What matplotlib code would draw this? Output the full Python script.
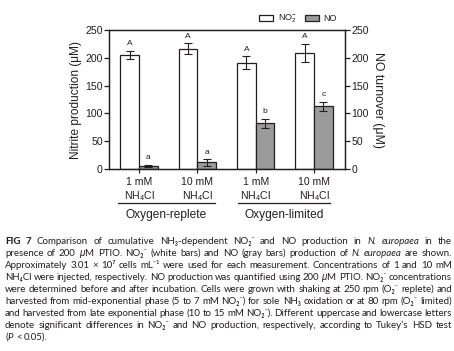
import matplotlib
matplotlib.use("Agg")
import matplotlib.pyplot as plt
import numpy as np
from matplotlib.transforms import blended_transform_factory

plt.rcParams['font.family'] = ['Liberation Sans', 'DejaVu Sans']
plt.rcParams['mathtext.fontset'] = 'custom'
plt.rcParams['mathtext.rm'] = 'Liberation Sans'
plt.rcParams['mathtext.it'] = 'Liberation Sans:italic'
plt.rcParams['mathtext.bf'] = 'Liberation Sans:bold'

# data
categories = ['1 mM\nNH$_4$Cl', '10 mM\nNH$_4$Cl', '1 mM\nNH$_4$Cl', '10 mM\nNH$_4$Cl']
groups = ['Oxygen-replete', 'Oxygen-limited']
nitrite = [205, 216, 191, 209]
nitrite_err = [8, 10, 12, 16]
no_turnover = [6, 12, 82, 113]
no_err = [2, 6, 8, 8]
nitrite_letters = ['A', 'A', 'A', 'A']
no_letters = ['a', 'a', 'b', 'c']

ink = '#231f20'
gray = '#9b9b9b'

fig = plt.figure(figsize=(4.54, 3.51), dpi=100)
ax = fig.add_axes([0.240, 0.5185, 0.520, 0.396])

x = np.arange(len(categories))
w = 0.32
ax.bar(x - w / 2, nitrite, w, color='white', edgecolor=ink, linewidth=0.9,
       yerr=nitrite_err, error_kw=dict(ecolor=ink, elinewidth=0.8, capsize=3, capthick=0.8),
       label='NO$_2^{-}$')
ax.bar(x + w / 2, no_turnover, w, color=gray, edgecolor=ink, linewidth=0.9,
       yerr=no_err, error_kw=dict(ecolor=ink, elinewidth=0.8, capsize=3, capthick=0.8),
       label='NO')

for i in range(len(x)):
    ax.annotate(nitrite_letters[i], (x[i] - w / 2, nitrite[i] + nitrite_err[i]),
                xytext=(0, 2.5), textcoords='offset points', ha='center', va='bottom',
                fontsize=6, color=ink)
    ax.annotate(no_letters[i], (x[i] + w / 2, no_turnover[i] + no_err[i]),
                xytext=(0, 2.5), textcoords='offset points', ha='center', va='bottom',
                fontsize=6, color=ink)

ax.set_xlim(-0.515, 3.53)
ax.set_ylim(0, 250)
ax.set_yticks([0, 50, 100, 150, 200, 250])
ax.set_xticks(x)
ax.set_xticklabels(categories, fontsize=7.6, color=ink, linespacing=1.15)
ax.tick_params(axis='x', length=3, width=0.9, color=ink, pad=3)
ax.tick_params(axis='y', length=3.5, width=0.9, color=ink, labelsize=7.6, labelcolor=ink, pad=1)
for s in ax.spines.values():
    s.set_linewidth(0.9)
    s.set_color(ink)
ax.set_ylabel('Nitrite production (μM)', fontsize=8.6, color=ink, labelpad=2)

ax2 = ax.twinx()
ax2.set_ylim(0, 250)
ax2.set_yticks([0, 50, 100, 150, 200, 250])
ax2.tick_params(axis='y', length=3.5, width=0.9, color=ink, labelsize=7.6, labelcolor=ink, pad=1)
for s in ax2.spines.values():
    s.set_linewidth(0.9)
    s.set_color(ink)
ax2.set_ylabel('NO turnover (μM)', fontsize=8.8, color=ink, rotation=270, labelpad=11)

# group underlines and labels
tr = blended_transform_factory(ax.transData, ax.transAxes)
for (a, b), name in zip([(-0.36, 1.30), (1.70, 3.28)], groups):
    ax.plot([a, b], [-0.245, -0.245], transform=tr, color=ink, lw=0.9, clip_on=False)
    ax.text((a + b) / 2, -0.33, name, transform=tr, ha='center', va='center',
            fontsize=8.6, color=ink)

leg = ax.legend(loc='lower right', bbox_to_anchor=(0.985, 1.0), ncol=2, frameon=False,
                fontsize=6.5, handlelength=1.6, handleheight=0.55, columnspacing=0.9,
                handletextpad=0.5, borderaxespad=0.1, labelcolor=ink)

# caption, justified line by line
B, I = 'b', 'i'
caption = [
    [('FIG', B), ('7', B), 'Comparison', 'of', 'cumulative', 'NH₃-dependent', 'NO₂⁻', 'and', 'NO',
     'production', 'in', ('N.', I), ('europaea', I), 'in', 'the'],
    ['presence', 'of', '200', '$\\mu$M', 'PTIO.', 'NO₂⁻', '(white', 'bars)', 'and', 'NO', '(gray', 'bars)',
     'production', 'of', ('N.', I), ('europaea', I), 'are', 'shown.'],
    ['Approximately', '3.01', '×', '10⁷', 'cells', 'mL⁻¹', 'were', 'used', 'for', 'each',
     'measurement.', 'Concentrations', 'of', '1', 'and', '10', 'mM'],
    ['NH₄Cl', 'were', 'injected,', 'respectively.', 'NO', 'production', 'was', 'quantified', 'using',
     '200', '$\\mu$M', 'PTIO.', 'NO₂⁻', 'concentrations'],
    ['were', 'determined', 'before', 'and', 'after', 'incubation.', 'Cells', 'were', 'grown', 'with',
     'shaking', 'at', '250', 'rpm', '(O₂⁻', 'replete)', 'and'],
    ['harvested', 'from', 'mid-exponential', 'phase', '(5', 'to', '7', 'mM', 'NO₂⁻)', 'for', 'sole',
     'NH₃', 'oxidation', 'or', 'at', '80', 'rpm', '(O₂⁻', 'limited)'],
    ['and', 'harvested', 'from', 'late', 'exponential', 'phase', '(10', 'to', '15', 'mM', 'NO₂⁻).',
     'Different', 'uppercase', 'and', 'lowercase', 'letters'],
    ['denote', 'significant', 'differences', 'in', 'NO₂⁻', 'and', 'NO', 'production,', 'respectively,',
     'according', 'to', 'Tukey’s', 'HSD', 'test'],
    ['(', ('P', I), '<', '0.05).'],
]

renderer = fig.canvas.get_renderer()
W = fig.bbox.width
H = fig.bbox.height
x0, x1 = 5, 452
y_first = 244
line_step = 12.0
cap_size = 7.0
cap_font = ['Lato', 'DejaVu Sans']

for li, line in enumerate(caption):
    y = 1 - (y_first + li * line_step) / H
    last = li == len(caption) - 1
    size = cap_size
    while True:
        arts = []
        for tok in line:
            if isinstance(tok, tuple):
                s, st = tok
            else:
                s, st = tok, None
            t = fig.text(0, y, s, fontsize=size, color=ink, va='baseline', ha='left',
                         family=cap_font,
                         fontweight='bold' if st == B else 'normal',
                         fontstyle='italic' if st == I else 'normal')
            arts.append(t)
        widths = [a.get_window_extent(renderer).width for a in arts]
        gap = (x1 - x0 - sum(widths)) / max(len(arts) - 1, 1)
        if gap >= 2.0 or last:
            break
        for a in arts:
            a.remove()
        size -= 0.1
    pos = x0
    for k, (a, wd) in enumerate(zip(arts, widths)):
        a.set_x(pos / W)
        if last:
            pos += wd + (0.3 if k < 1 else 2.5)
        else:
            pos += wd + gap

fig.savefig('out.png', dpi=100)
